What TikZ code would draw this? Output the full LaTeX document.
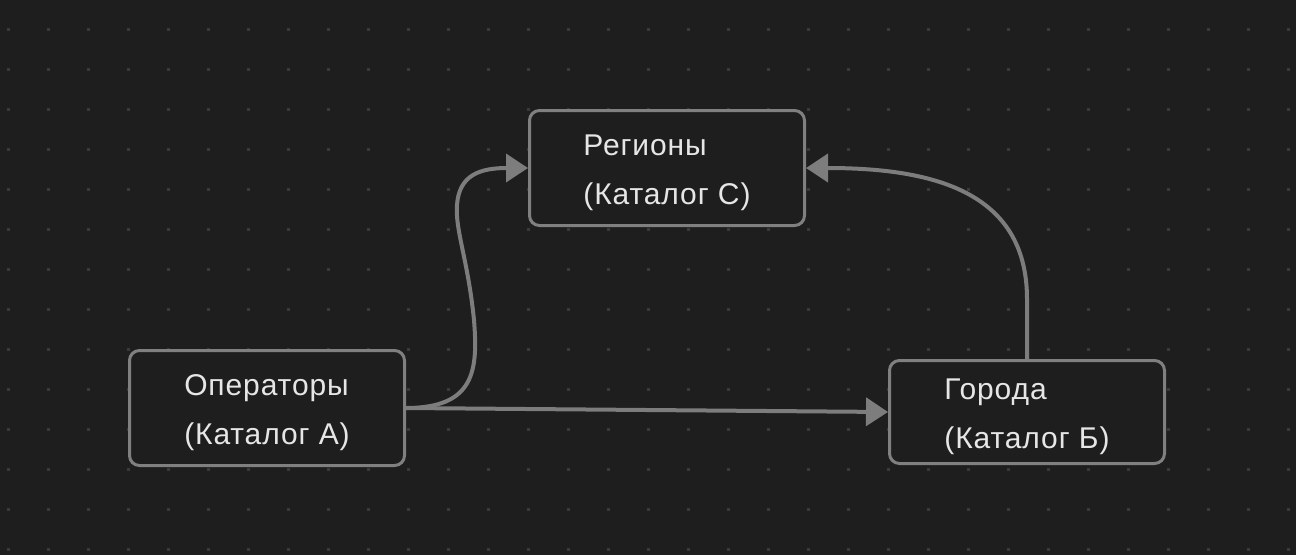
\documentclass[tikz,border=0pt]{standalone}
\usepackage{fontspec}
\setmainfont{Liberation Sans}[LetterSpace=3.0]
\usetikzlibrary{arrows.meta}
\definecolor{bgcol}{HTML}{1E1E1E}
\definecolor{dotcol}{HTML}{3A3A3A}
\definecolor{boxcol}{HTML}{808080}
\definecolor{edgecol}{HTML}{7D7D7D}
\definecolor{txtcol}{HTML}{E6E6E6}
\newcommand{\topgap}{\rule{0pt}{31pt}}
\begin{document}
\begin{tikzpicture}[x=1pt,y=-1pt,
		catbox/.style={draw=boxcol, fill=bgcol, line width=3pt, rounded corners=10pt,
			minimum width=275pt, minimum height=115pt, align=left, text=txtcol,
			font=\fontsize{30}{49}\selectfont},
		edge/.style={draw=edgecol, line width=4pt, -{Triangle[length=22pt,width=28pt]}}]

		\fill[bgcol] (0,0) rectangle (1296,555);
		\useasboundingbox (0,0) rectangle (1296,555);
		\foreach \i in {0,...,32}
			\foreach \j in {0,...,13}
				\fill[dotcol] (7+40*\i,28+40*\j) rectangle ++(2.5,2.5);

		\node[catbox] (ops) at (267,408) {\topgap Операторы\\(Каталог А)};
		\node[catbox] (reg) at (667,168) {\topgap Регионы\\(Каталог С)};
		\node[catbox, minimum height=103pt] (cit) at (1027,412) {\topgap Города\\(Каталог Б)};

		\draw[edge] (ops.east) .. controls (475,408) and (478,370) .. (474,320)
			.. controls (468,260) and (455,230) .. (457,205)
			.. controls (459,175) and (480,168) .. (reg.west);
		\draw[edge] (ops.east) -- (cit.west);
		\draw[edge] (cit.north) -- ++(0,-60) .. controls (1027,190) and (930,168) .. (reg.east);
	\end{tikzpicture}
\end{document}
